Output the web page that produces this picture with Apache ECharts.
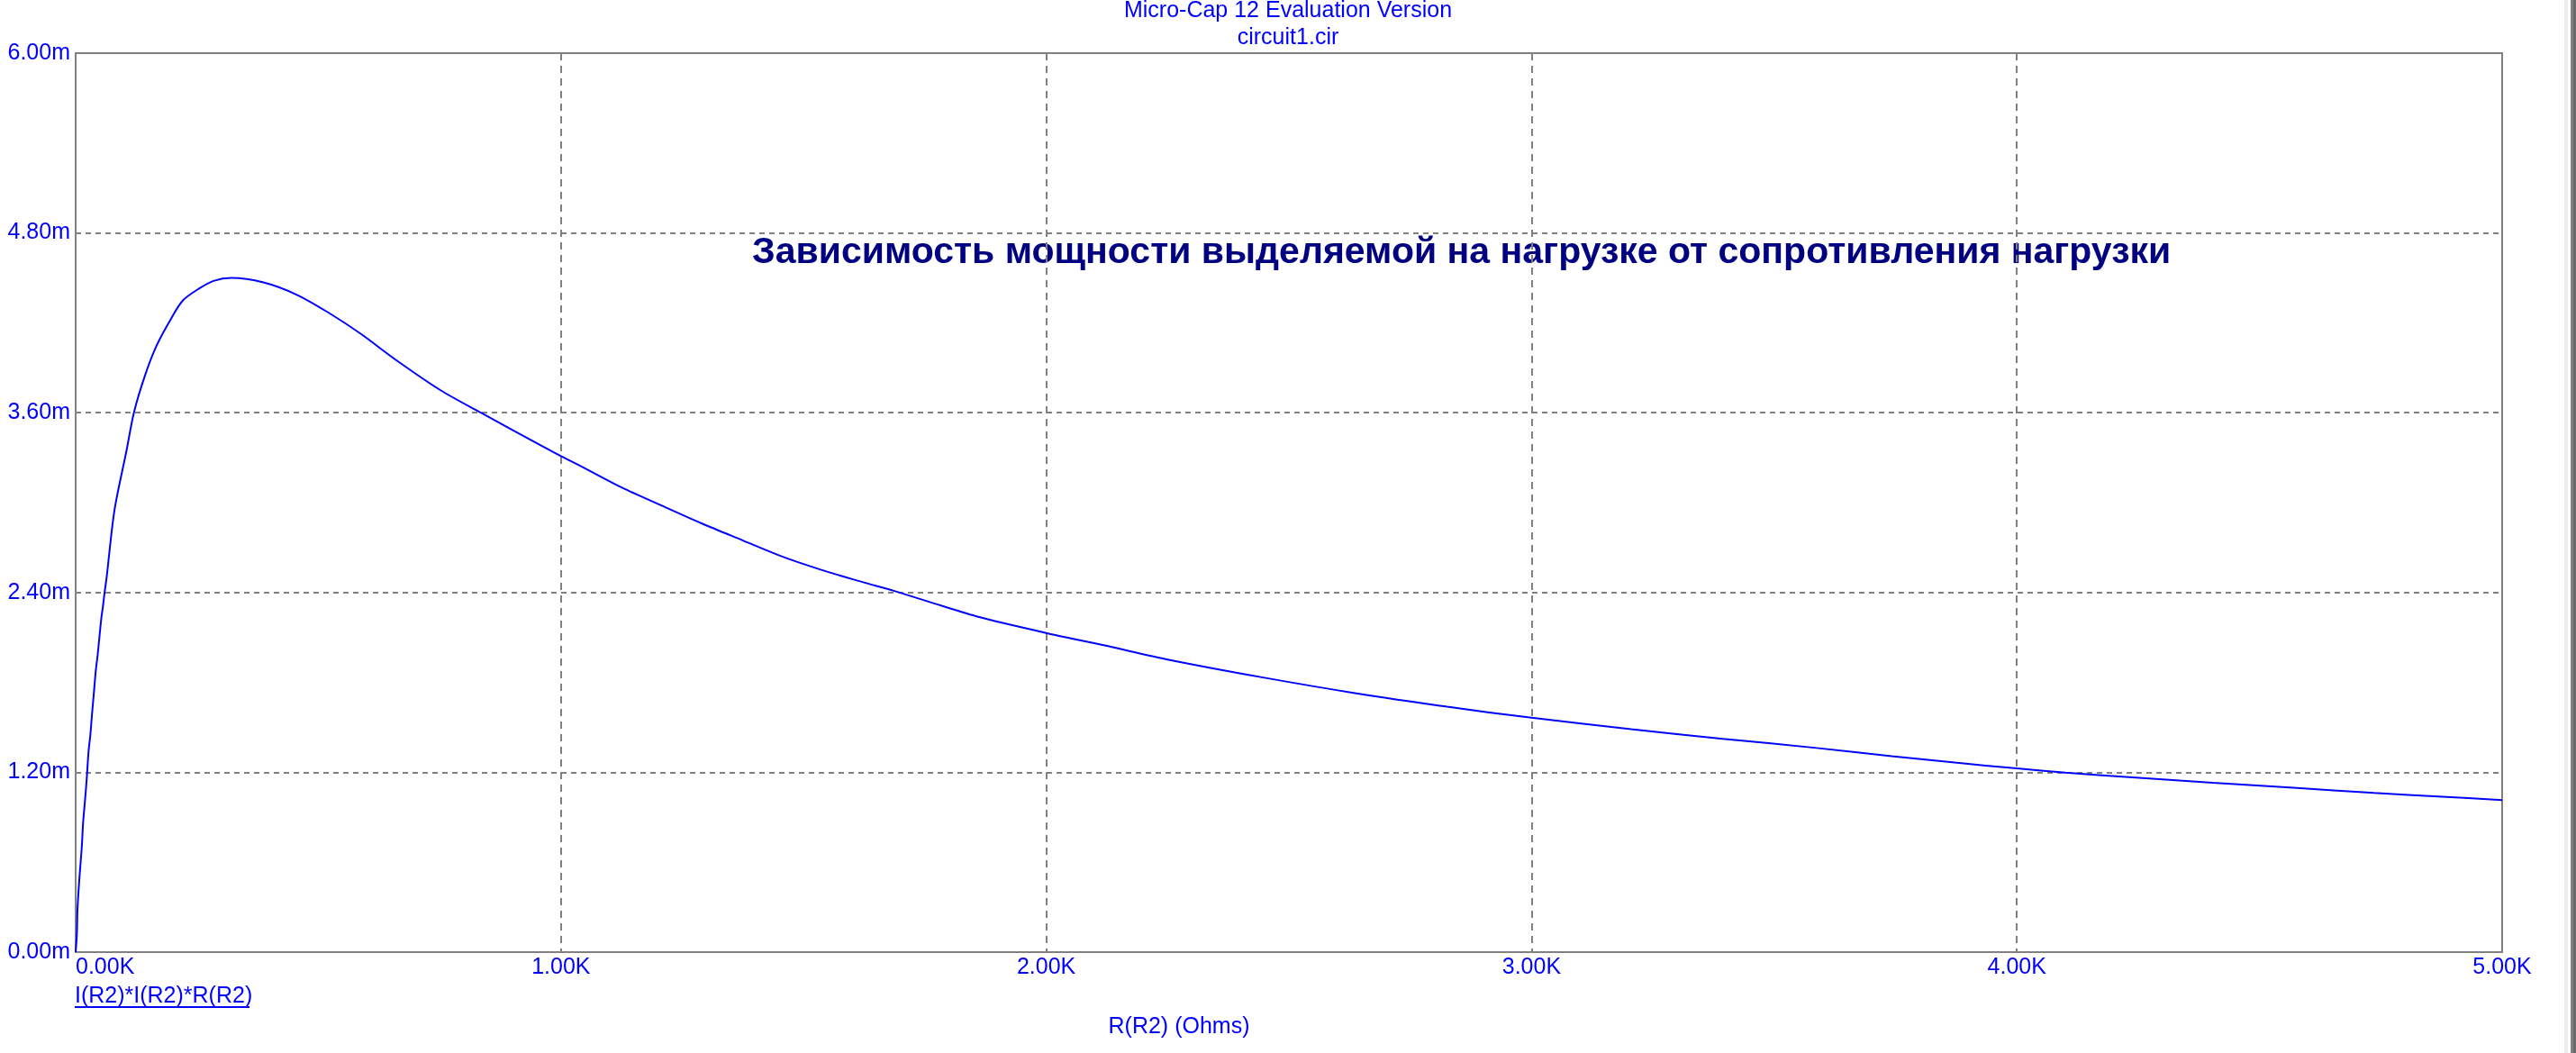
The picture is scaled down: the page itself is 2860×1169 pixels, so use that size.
<!DOCTYPE html>
<html>
<head>
<meta charset="utf-8">
<script src="https://cdn.jsdelivr.net/npm/echarts@6/dist/echarts.min.js"></script>
<style>
html,body{margin:0;padding:0;background:#fff;}
#chart{width:2860px;height:1169px;}
</style>
</head>
<body>
<div id="chart"></div>
<script>
// Load resistance R(R2), ohms
const rValues = [0, 2.5, 3.7, 7.4, 12.4, 15.5, 19.2, 22.9, 26.6, 30.3, 34, 37.8, 41.5, 45.2, 48.9, 52.6, 56.3, 60, 63.8, 80, 105, 120, 143, 167, 197, 221, 255, 284, 321, 387, 454, 520, 586, 661, 752, 835, 960, 1000, 1043, 1126, 1208, 1291, 1373, 1456, 1538, 1621, 1687, 1786, 1869, 2000, 2116, 2255, 2447, 2636, 2826, 3000, 3205, 3394, 3583, 3742, 3872, 4000, 4100, 4238, 4404, 4570, 4736, 4877, 5000];
// Power I(R2)*I(R2)*R(R2), mW
const pValues = [0, 0.12, 0.28, 0.48, 0.69, 0.87, 1.01, 1.16, 1.34, 1.45, 1.60, 1.74, 1.88, 1.98, 2.10, 2.22, 2.31, 2.41, 2.50, 2.95, 3.35, 3.60, 3.85, 4.05, 4.23, 4.35, 4.43, 4.48, 4.50, 4.47, 4.39, 4.27, 4.13, 3.95, 3.75, 3.60, 3.38, 3.31, 3.24, 3.10, 2.98, 2.86, 2.75, 2.64, 2.55, 2.47, 2.41, 2.31, 2.23, 2.13, 2.05, 1.95, 1.833, 1.729, 1.638, 1.564, 1.488, 1.424, 1.364, 1.308, 1.265, 1.226, 1.198, 1.166, 1.130, 1.097, 1.063, 1.037, 1.015];
const xTickLabels = ['0.00K', '1.00K', '2.00K', '3.00K', '4.00K', '5.00K'];
const yTickLabels = ['0.00m', '1.20m', '2.40m', '3.60m', '4.80m', '6.00m'];
const headerTitle = 'Micro-Cap 12 Evaluation Version';
const fileName = 'circuit1.cir';
const plotTitle = 'Зависимость мощности выделяемой на нагрузке от сопротивления нагрузки';
const seriesName = 'I(R2)*I(R2)*R(R2)';
const xAxisName = 'R(R2) (Ohms)';

const FONT = '"Liberation Sans", Arial, sans-serif';
const blue = '#0000ff';
const gridGray = '#808080';

const chart = echarts.init(document.getElementById('chart'), null, {renderer: 'canvas'});
const data = rValues.map((r, i) => [r, pValues[i]]);

chart.setOption({
  animation: false,
  backgroundColor: '#ffffff',
  grid: {
    left: 84, top: 59, right: 82, bottom: 112,
    show: true, borderColor: gridGray, borderWidth: 2, backgroundColor: 'transparent'
  },
  xAxis: {
    type: 'value', min: 0, max: 5000, interval: 1000,
    axisLine: {show: false}, axisTick: {show: false},
    axisLabel: {
      color: blue, fontFamily: FONT, fontSize: 25, margin: 5,
      alignMinLabel: 'left',
      formatter: v => xTickLabels[Math.round(v / 1000)]
    },
    splitLine: {show: true, lineStyle: {color: gridGray, width: 2, type: [8, 6]}}
  },
  yAxis: {
    type: 'value', min: 0, max: 6, interval: 1.2,
    axisLine: {show: false}, axisTick: {show: false},
    axisLabel: {
      color: blue, fontFamily: FONT, fontSize: 25, margin: 6,
      formatter: v => yTickLabels[Math.round(v / 1.2)]
    },
    splitLine: {show: true, lineStyle: {color: gridGray, width: 2, type: [6, 5]}}
  },
  series: [{
    name: seriesName,
    type: 'line',
    data: data,
    showSymbol: false,
    smooth: 0.3,
    lineStyle: {color: blue, width: 2},
    z: 5
  }],
  graphic: [
    {type: 'text', x: 1430, y: 12, style: {text: headerTitle, font: '25px ' + FONT, fill: blue, textAlign: 'center', textVerticalAlign: 'middle'}},
    {type: 'text', x: 1430, y: 42, style: {text: fileName, font: '25px ' + FONT, fill: blue, textAlign: 'center', textVerticalAlign: 'middle'}},
    {type: 'text', x: 835, y: 281, style: {text: plotTitle, font: 'bold 41px ' + FONT, fill: '#000080', textAlign: 'left', textVerticalAlign: 'middle'}},
    {type: 'text', x: 1309, y: 1140, style: {text: xAxisName, font: '25px ' + FONT, fill: blue, textAlign: 'center', textVerticalAlign: 'middle'}},
    {type: 'text', x: 83, y: 1106, style: {text: seriesName, font: '25px ' + FONT, fill: blue, textAlign: 'left', textVerticalAlign: 'middle'}},
    {type: 'line', shape: {x1: 83, y1: 1118, x2: 277, y2: 1118}, style: {stroke: blue, lineWidth: 2}},
    {type: 'rect', shape: {x: 2847, y: 0, width: 4, height: 1169}, style: {fill: '#ececec'}},
    {type: 'rect', shape: {x: 2854, y: 0, width: 3, height: 1169}, style: {fill: '#808080'}},
    {type: 'rect', shape: {x: 2857, y: 0, width: 3, height: 1169}, style: {fill: '#6a6a6a'}}
  ]
});
</script>
</body>
</html>
